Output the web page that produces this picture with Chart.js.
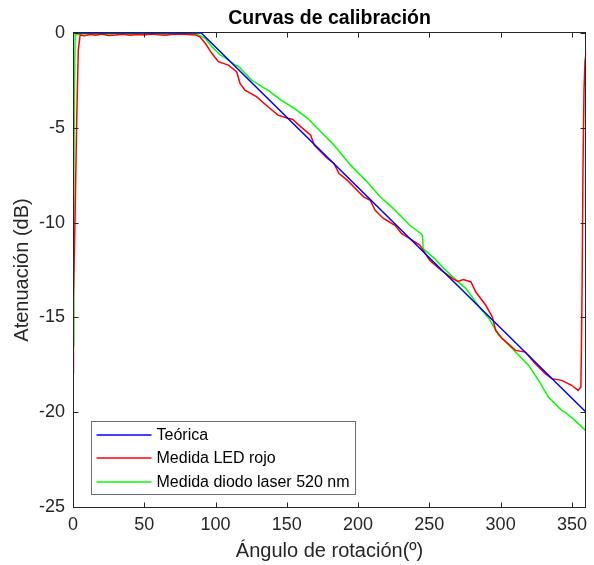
<!DOCTYPE html>
<html>
<head>
<meta charset="utf-8">
<script src="https://cdn.jsdelivr.net/npm/chart.js@4.4.1/dist/chart.umd.min.js"></script>
<style>
  html, body { margin: 0; padding: 0; background: #fff; }
  #wrap { width: 594px; height: 565px; }
</style>
</head>
<body>
<div id="wrap"><canvas id="myChart" width="594" height="565"></canvas></div>
<script>
const FONT = "'Liberation Sans', Arial, Helvetica, sans-serif";

const chartTitle = 'Curvas de calibración';
const xTicks = [0, 50, 100, 150, 200, 250, 300, 350];
const yTicks = [-25, -20, -15, -10, -5, 0];

// Teórica
const teoX = [0, 90, 360];
const teoY = [0, 0, -20];

// Medida LED rojo
const ledX = [0, 0.3, 1.4, 2.6, 3.7, 5, 8, 12, 16, 20, 25, 30, 35, 40, 45, 50, 55, 60, 65, 70,
  74.3, 80, 85.9, 89, 92.8, 97.4, 102, 109, 114.8, 117.2, 120.6, 128.7, 136.8, 143.8, 150.7, 154.2,
  159.9, 166.8, 169.2, 178.5, 183.1, 186.6, 192.4, 199.3, 203.9, 208.5, 212, 217.8, 225.9, 230.6,
  236.3, 243.3, 250.2, 258, 266.4, 270, 273.8, 279.2, 282.6, 289.6, 294.2, 296.5, 301.2, 310.4,
  317.4, 324.3, 331.3, 335.9, 342.8, 349.8, 354.4, 356.3, 356.7, 357.2, 357.8, 358.5, 359.2, 360];
const ledY = [-17.9, -14, -9.9, -4.6, -0.93, -0.1, -0.15, -0.08, -0.12, -0.05, -0.13, -0.1, -0.06, -0.12, -0.08, -0.1, -0.05, -0.09, -0.12, -0.07,
  -0.05, -0.08, -0.1, -0.2, -0.54, -1.07, -1.51, -1.69, -2.04, -2.66, -3.01, -3.36, -3.89, -4.33, -4.5, -4.56,
  -4.95, -5.39, -5.91, -6.62, -6.88, -7.41, -7.76, -8.29, -8.64, -8.82, -9.35, -9.78, -10.14, -10.58,
  -10.84, -11.19, -11.98, -12.5, -12.95, -13.1, -13.0, -13.13, -13.66, -14.36, -14.98, -15.68, -16.12, -16.74,
  -16.83, -17.44, -17.97, -18.23, -18.32, -18.58, -18.85, -18.67, -16.56, -13.04, -7, -3, -1.5, -1.0];

// Medida diodo laser 520 nm
const lasX = [0, 0.3, 0.7, 1.0, 1.5, 5, 10, 15, 20, 25, 30, 35, 40, 45, 50, 55, 60, 65, 70, 74.3,
  80, 86.8, 92.8, 97.4, 103.2, 106.7, 113.7, 116, 125.2, 134.5, 136.8, 146, 155.3, 164.6, 173.8,
  183.1, 194.7, 206.3, 215.5, 224.8, 236.3, 244.4, 245.2, 245.6, 253.7, 260, 266.4, 275.7, 285,
  291.9, 298.8, 305.8, 312.7, 319.7, 326.6, 333.5, 342.8, 345.1, 352.1, 359.5, 360];
const lasY = [-16.5, -14, -9.2, -3, -0.1, -0.05, -0.03, -0.06, -0.04, -0.05, -0.03, -0.06, -0.04, -0.05, -0.06, -0.03, -0.05, -0.04, -0.06, -0.05,
  -0.04, -0.06, -0.28, -0.72, -1.16, -1.3, -1.69, -1.75, -2.48, -2.92, -3.01, -3.54, -3.98, -4.5, -5.21,
  -5.91, -6.97, -7.85, -8.64, -9.26, -10.14, -10.6, -10.7, -11.37, -11.9, -12.4, -12.86, -13.48, -14.45,
  -15.07, -15.95, -16.47, -17.0, -17.53, -18.32, -19.2, -19.9, -19.99, -20.43, -20.96, -21.0];

const pts = (xs, ys) => xs.map((x, i) => ({ x: x, y: ys[i] }));

// caja tipo matlab: marco, ticks hacia dentro, titulo y leyenda dentro del area
const matlabBox = {
  id: 'matlabBox',
  afterDraw(chart) {
    const { ctx, chartArea: a, scales: { x, y } } = chart;
    const L = Math.round(a.left) + 0.5, R = Math.round(a.right) - 0.5;
    const T = Math.round(a.top) - 0.5, B = Math.round(a.bottom) + 0.5;
    ctx.save();
    ctx.strokeStyle = '#262626';
    ctx.lineWidth = 1;
    ctx.strokeRect(L, T, R - L, B - T);
    ctx.beginPath();
    xTicks.forEach(v => {
      const px = Math.round(x.getPixelForValue(v)) + 0.5;
      ctx.moveTo(px, B); ctx.lineTo(px, B - 5);
      ctx.moveTo(px, T); ctx.lineTo(px, T + 5);
    });
    yTicks.forEach(v => {
      const py = Math.round(y.getPixelForValue(v)) + 0.5;
      ctx.moveTo(L, py); ctx.lineTo(L + 5, py);
      ctx.moveTo(R, py); ctx.lineTo(R - 5, py);
    });
    ctx.stroke();

    // titulo
    ctx.fillStyle = '#000';
    ctx.font = 'bold 19.5px ' + FONT;
    ctx.textAlign = 'center';
    ctx.textBaseline = 'alphabetic';
    ctx.fillText(chartTitle, (a.left + a.right) / 2, 24);

    // leyenda
    ctx.font = '16px ' + FONT;
    const sets = chart.data.datasets;
    let maxW = 0;
    sets.forEach(d => { maxW = Math.max(maxW, ctx.measureText(d.label).width); });
    const bx = a.left + 18.5, bw = 65 + maxW + 6, bh = 73;
    const by = a.bottom - 13 - bh + 0.5;
    ctx.fillStyle = '#fff';
    ctx.fillRect(bx, by, bw, bh);
    ctx.strokeStyle = '#6e6e6e';
    ctx.lineWidth = 1;
    ctx.strokeRect(bx, by, bw, bh);
    ctx.textAlign = 'left';
    ctx.textBaseline = 'middle';
    sets.forEach((d, i) => {
      const ly = Math.round(by + 13 + i * 23.5);
      ctx.strokeStyle = d.borderColor;
      ctx.lineWidth = 1.5;
      ctx.beginPath();
      ctx.moveTo(bx + 5, ly); ctx.lineTo(bx + 60, ly);
      ctx.stroke();
      ctx.fillStyle = '#000';
      ctx.fillText(d.label, bx + 65, ly + 1);
    });
    ctx.restore();
  }
};

const ctx = document.getElementById('myChart').getContext('2d');
new Chart(ctx, {
  type: 'line',
  data: {
    datasets: [
      { label: 'Teórica', data: pts(teoX, teoY), borderColor: '#0000ff', borderWidth: 1.5 },
      { label: 'Medida LED rojo', data: pts(ledX, ledY), borderColor: '#ff0000', borderWidth: 1.5 },
      { label: 'Medida diodo laser 520 nm', data: pts(lasX, lasY), borderColor: '#00ff00', borderWidth: 1.5 }
    ]
  },
  options: {
    responsive: false,
    animation: false,
    layout: { padding: { top: 33, right: 3, left: 0, bottom: 0 } },
    elements: { point: { radius: 0 }, line: { tension: 0 } },
    plugins: {
      legend: { display: false },
      title: { display: false },
      tooltip: { enabled: false }
    },
    scales: {
      x: {
        type: 'linear',
        min: 0,
        max: 360,
        afterBuildTicks: s => { s.ticks = xTicks.map(v => ({ value: v })); },
        afterFit: s => { s.height = 58; },
        grid: { display: false, drawTicks: false },
        border: { display: false },
        ticks: { font: { family: FONT, size: 18 }, color: '#262626', padding: 7, maxRotation: 0, autoSkip: false },
        title: { display: true, text: 'Ángulo de rotación(º)', font: { family: FONT, size: 20 }, color: '#262626', padding: { top: 0, bottom: 2 } }
      },
      y: {
        type: 'linear',
        min: -25,
        max: 0,
        afterBuildTicks: s => { s.ticks = yTicks.map(v => ({ value: v })); },
        afterFit: s => { s.width = 73; },
        grid: { display: false, drawTicks: false },
        border: { display: false },
        ticks: { font: { family: FONT, size: 18 }, color: '#262626', padding: 8, autoSkip: false },
        title: { display: true, text: 'Atenuación (dB)', font: { family: FONT, size: 20 }, color: '#262626', padding: { top: 10, bottom: 0 } }
      }
    }
  },
  plugins: [matlabBox]
});
</script>
</body>
</html>
